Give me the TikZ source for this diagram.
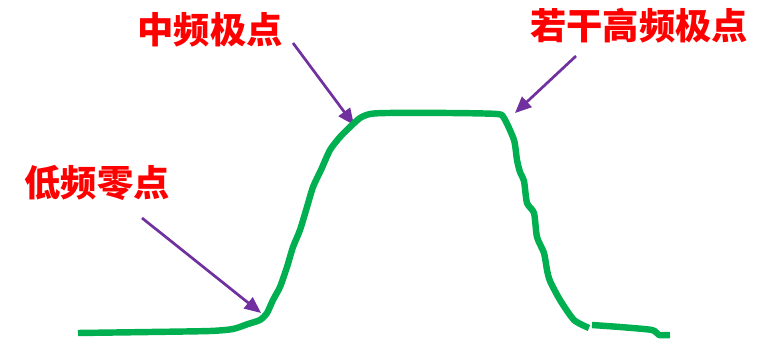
\documentclass[tikz,border=0pt]{standalone}
\usepackage{fontspec}
\newfontfamily\cjk{Noto Sans CJK SC}
\usetikzlibrary{arrows.meta}
\definecolor{curvegreen}{RGB}{0,176,80}
\definecolor{arrowpurple}{RGB}{112,48,160}
\tikzset{
  lbl/.style={text=red,font=\cjk\bfseries\fontsize{31}{36}\selectfont,inner sep=0pt},
  ptr/.style={arrowpurple,line width=2.3pt,-{Triangle[length=14pt,width=12pt]}},
  resp/.style={curvegreen,line width=5.5pt,line join=round}
}

\begin{document}
\begin{tikzpicture}[x=0.03cm,y=-0.03cm]
\useasboundingbox (0,0) rectangle (774,341);
% labels
\node[lbl] (mid) at (210,30) {中频极点};
\node[lbl] (high) at (639,26) {若干高频极点};
\node[lbl] (low) at (97,183) {低频零点};
% arrow ends
\coordinate (midtail) at (293,43);
\coordinate (midtip) at (354,125);
\coordinate (hightail) at (576,56);
\coordinate (hightip) at (515,113);
\coordinate (lowtail) at (142,218);
\coordinate (lowtip) at (261,313);
\draw[ptr] (midtail) -- (midtip);
\draw[ptr] (hightail) -- (hightip);
\draw[ptr] (lowtail) -- (lowtip);
% response curve
\draw[resp] plot[smooth,tension=0.4] coordinates{
  (78,333) (150,332) (210,331) (233,329) (248,324) (260,320) (267,313)
  (273,300) (280,287) (287,267) (293,247) (300,230) (307,207) (313,187)
  (321,170) (330,150) (340,137) (350,127) (360,118) (370,114) (387,113)
  (450,113) (497,114) (504,118) (514,140) (517,160) (520,172) (524,181)
  (527,203) (534,213) (537,237) (544,253) (547,270) (550,281) (560,300)
  (574,320) (589,328)};
\draw[resp] plot[smooth,tension=0.4] coordinates{
  (592,325) (620,327) (652,330) (659,335) (670,335)};
\end{tikzpicture}
\end{document}
